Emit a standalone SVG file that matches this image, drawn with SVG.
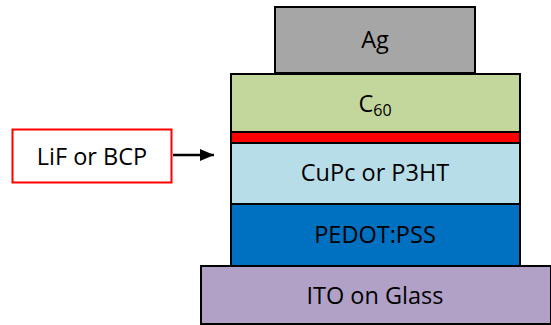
<svg xmlns="http://www.w3.org/2000/svg" width="551" height="325" viewBox="0 0 551 325">
<defs>
<style>
.layer{stroke:#000;stroke-width:2}
.t{font-family:"Open Sans","Liberation Sans",sans-serif;font-size:23.5px;fill:#000;text-anchor:middle}
</style>
<marker id="ah" markerWidth="14" markerHeight="12" refX="14" refY="6" orient="auto" markerUnits="userSpaceOnUse"><path d="M0,0 L14,6 L0,12 Z" fill="#000"/></marker>
</defs>
<rect width="551" height="325" fill="#fff"/>
<g id="ito"><rect class="layer" x="201" y="266" width="350" height="58" fill="#b2a1c7"/><text class="t" x="375" y="304">ITO on Glass</text></g>
<g id="pedot"><rect class="layer" x="231" y="204" width="289" height="62" fill="#0070c0"/><text class="t" x="375" y="243">PEDOT:PSS</text></g>
<g id="cupc"><rect class="layer" x="231" y="143" width="289" height="61" fill="#b7dde8"/><text class="t" x="375" y="181">CuPc or P3HT</text></g>
<g id="lif-layer"><rect class="layer" x="231" y="132" width="289" height="11" fill="#ff0000"/></g>
<g id="c60"><rect class="layer" x="231" y="74" width="289" height="58" fill="#c3d69b"/><text class="t" x="375" y="112">C<tspan font-size="16" dy="4">60</tspan></text></g>
<g id="ag"><rect class="layer" x="275" y="7" width="200" height="66" fill="#a6a6a6"/><text class="t" x="375" y="48">Ag</text></g>
<g id="label"><rect x="12.5" y="129.5" width="159" height="53" fill="#fff" stroke="#ff0000" stroke-width="2"/><text class="t" x="92" y="165">LiF or BCP</text></g>
<g id="connectors"><line x1="173" y1="155" x2="214" y2="155" stroke="#000" stroke-width="2.5" marker-end="url(#ah)"/></g>
</svg>
